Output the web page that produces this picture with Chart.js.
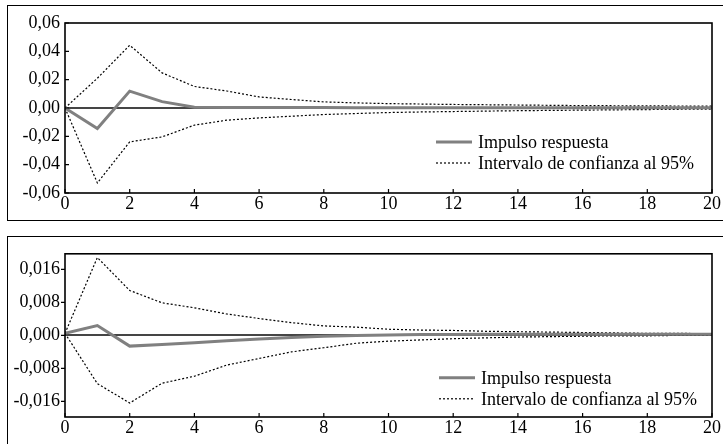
<!DOCTYPE html>
<html>
<head>
<meta charset="utf-8">
<script src="https://cdn.jsdelivr.net/npm/chart.js@4.4.1/dist/chart.umd.min.js"></script>
<style>
body { margin: 0; background: #fff; width: 723px; height: 444px; overflow: hidden; position: relative; }
.frame { position: absolute; border: 1.5px solid #000; border-right: none; box-sizing: border-box; }
#f1 { left: 7px; top: 5px; width: 730px; height: 216px; }
#f2 { left: 7px; top: 236px; width: 730px; height: 230px; }
.box { position: absolute; }
#b1 { left: 8px; top: 6px; width: 715px; height: 213px; }
#b2 { left: 8px; top: 238px; width: 715px; height: 206px; }
</style>
</head>
<body>
<div class="frame" id="f1"></div>
<div class="frame" id="f2"></div>
<div class="box" id="b1"><canvas id="chartTop"></canvas></div>
<div class="box" id="b2"><canvas id="chartBottom"></canvas></div>
<script>
// horizonte (periodos)
const periods = [0, 1, 2, 3, 4, 5, 6, 7, 8, 9, 10, 11, 12, 13, 14, 15, 16, 17, 18, 19, 20];
const xTicks = [0, 2, 4, 6, 8, 10, 12, 14, 16, 18, 20];

// panel superior
const irfTop   = [0, -0.0145, 0.0119, 0.0045, 0.0005, 0.0004, 0.0003, 0.0003, 0.0003, 0.0002, 0.0002, 0.0002, 0.0002, 0.0002, 0.0002, 0.0002, 0.0002, 0.0002, 0.0002, 0.0002, 0.0002];
const upperTop = [0, 0.0210, 0.0443, 0.0248, 0.0152, 0.0120, 0.0078, 0.0060, 0.0043, 0.0036, 0.0031, 0.0028, 0.0025, 0.0023, 0.0021, 0.0019, 0.0017, 0.0016, 0.0015, 0.0014, 0.0013];
const lowerTop = [0, -0.0529, -0.0239, -0.0204, -0.0121, -0.0086, -0.0070, -0.0058, -0.0046, -0.0039, -0.0032, -0.0028, -0.0025, -0.0022, -0.0019, -0.0017, -0.0015, -0.0013, -0.0011, -0.0009, -0.0008];
const yTicksTop = [-0.06, -0.04, -0.02, 0, 0.02, 0.04, 0.06];

// panel inferior
const irfBottom   = [0.0005, 0.0024, -0.0026, -0.0022, -0.0018, -0.0013, -0.0009, -0.0005, -0.0002, 0, 0.0001, 0.0002, 0.0002, 0.0003, 0.0003, 0.0003, 0.0003, 0.0003, 0.0003, 0.0003, 0.0003];
const upperBottom = [0.0005, 0.0189, 0.0109, 0.0079, 0.0067, 0.0052, 0.0041, 0.0031, 0.0023, 0.0020, 0.0015, 0.0013, 0.0012, 0.0010, 0.0009, 0.0008, 0.0007, 0.0006, 0.0005, 0.0005, 0.0004];
const lowerBottom = [0.0005, -0.0117, -0.0164, -0.0116, -0.0099, -0.0072, -0.0056, -0.0040, -0.0030, -0.0019, -0.0014, -0.0011, -0.0008, -0.0006, -0.0004, -0.0003, -0.0002, -0.0001, -0.0001, 0, 0];
const yTicksBottom = [-0.016, -0.008, 0, 0.008, 0.016];

const labelIrf = "Impulso respuesta";
const labelBand = "Intervalo de confianza al 95%";

const FONT = "'Liberation Serif', 'Times New Roman', serif";

// marco del área de datos y marcas de los ejes
const framePlugin = {
    id: "frame",
    afterDatasetsDraw(chart, args, opts) {
        const { ctx, chartArea: a, scales } = chart;
        ctx.save();
        ctx.strokeStyle = "#000";
        ctx.lineWidth = 1.6;
        ctx.strokeRect(a.left, a.top, a.right - a.left, a.bottom - a.top);
        ctx.lineWidth = 1.2;
        ctx.beginPath();
        scales.x.ticks.forEach(t => {
            const x = scales.x.getPixelForValue(t.value);
            ctx.moveTo(x, a.bottom);
            ctx.lineTo(x, a.bottom - 4);
        });
        scales.y.ticks.forEach(t => {
            const y = scales.y.getPixelForValue(t.value);
            ctx.moveTo(a.left, y);
            ctx.lineTo(a.left + opts.yTick, y);
        });
        ctx.stroke();
        ctx.restore();
    }
};

// leyenda dentro del gráfico
const legendPlugin = {
    id: "innerLegend",
    afterDraw(chart, args, opts) {
        const { ctx, chartArea: a } = chart;
        const ds = chart.data.datasets;
        ctx.save();
        ctx.font = "18px " + FONT;
        ctx.fillStyle = "#000";
        ctx.textBaseline = "alphabetic";
        [0, 1].forEach((i, row) => {
            const y = a.top + opts.y + row * opts.gap;
            ctx.strokeStyle = ds[i].borderColor;
            ctx.lineWidth = ds[i].borderWidth;
            ctx.setLineDash(ds[i].borderDash || []);
            ctx.beginPath();
            ctx.moveTo(a.left + opts.x, y);
            ctx.lineTo(a.left + opts.x + 36, y);
            ctx.stroke();
            ctx.setLineDash([]);
            ctx.fillText(ds[i].label, a.left + opts.x + 42, y + 6);
        });
        ctx.restore();
    }
};

function fmt(v, d) {
    if (Math.abs(v) < 1e-12) v = 0;
    return v.toFixed(d).replace(".", ",");
}

function makeChart(id, irf, upper, lower, yTicks, yMin, yMax, digits, o) {
    const ctx = document.getElementById(id).getContext("2d");
    return new Chart(ctx, {
        type: "line",
        data: {
            datasets: [
                { label: labelIrf, data: periods.map((p, i) => ({ x: p, y: irf[i] })),
                  borderColor: "#808080", borderWidth: 3, pointRadius: 0, tension: 0 },
                { label: labelBand, data: periods.map((p, i) => ({ x: p, y: upper[i] })),
                  borderColor: "#000", borderWidth: 1.2, borderDash: [2, 2], pointRadius: 0, tension: 0 },
                { label: "", data: periods.map((p, i) => ({ x: p, y: lower[i] })),
                  borderColor: "#000", borderWidth: 1.2, borderDash: [2, 2], pointRadius: 0, tension: 0 }
            ]
        },
        options: {
            responsive: true,
            maintainAspectRatio: false,
            animation: false,
            layout: { padding: { top: o.padTop, right: 11, bottom: 0, left: 0 } },
            plugins: {
                legend: { display: false },
                tooltip: { enabled: false },
                frame: { yTick: o.yTick },
                innerLegend: o.legend
            },
            scales: {
                x: {
                    type: "linear", min: 0, max: 20,
                    afterBuildTicks: s => { s.ticks = xTicks.map(v => ({ value: v })); },
                    afterFit: s => { s.height = o.xHeight; },
                    grid: { display: false },
                    border: { display: false },
                    ticks: { color: "#000", font: { family: FONT, size: 18 }, padding: -8, maxRotation: 0, autoSkip: false }
                },
                y: {
                    min: yMin, max: yMax,
                    afterBuildTicks: s => { s.ticks = yTicks.map(v => ({ value: v })); },
                    afterFit: s => { s.width = 57; },
                    grid: {
                        drawTicks: false,
                        lineWidth: 2,
                        color: c => (c.tick && Math.abs(c.tick.value) < 1e-12) ? "#454545" : "rgba(0,0,0,0)"
                    },
                    border: { display: false },
                    ticks: { color: "#000", font: { family: FONT, size: 18 }, padding: 5,
                             callback: v => fmt(v, digits) }
                }
            }
        },
        plugins: [framePlugin, legendPlugin]
    });
}

makeChart("chartTop", irfTop, upperTop, lowerTop, yTicksTop, -0.06, 0.06, 2,
    { padTop: 17, xHeight: 26, yTick: 4, legend: { x: 371, y: 119, gap: 21 } });
makeChart("chartBottom", irfBottom, upperBottom, lowerBottom, yTicksBottom, -0.0198, 0.0198, 3,
    { padTop: 10, xHeight: 27, yTick: -4, legend: { x: 374, y: 124, gap: 21 } });
</script>
</body>
</html>
